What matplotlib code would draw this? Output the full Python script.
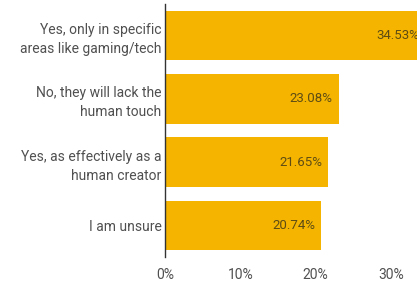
import matplotlib
matplotlib.use("Agg")
import matplotlib.pyplot as plt

plt.rcParams['font.family'] = ['Roboto', 'DejaVu Sans']

# data
categories = [
    "Yes, only in specific\nareas like gaming/tech",
    "No, they will lack the\nhuman touch",
    "Yes, as effectively as a\nhuman creator",
    "I am unsure",
]
values = [34.53, 23.08, 21.65, 20.74]
xticks = [0, 10, 20, 30]

bar_color = '#F4B400'
label_color = '#505050'
value_color = '#5e4c14'

fig = plt.figure(figsize=(4.17, 2.81), dpi=100)
ax = fig.add_axes([165 / 417, 24 / 281, 252 / 417, 253 / 281])

ypos = list(range(len(categories)))
ax.barh(ypos, values, height=0.78, color=bar_color, zorder=2)

# value labels inside bar ends (top one runs past the right edge, as in the source)
for y, v in zip(ypos, values):
    ax.annotate(f"{v:.2f}%", xy=(v, y), xytext=(-6, 0), textcoords='offset pixels',
                ha='right', va='center', fontsize=9.5, color=value_color,
                annotation_clip=False)

ax.set_ylim(len(categories) - 0.5, -0.5)
ax.set_xlim(0, 252 / 75.3 * 10)
ax.set_yticks(ypos)
ax.set_yticklabels(categories, fontsize=10, color=label_color, linespacing=1.45)
ax.set_xticks(xticks)
ax.set_xticklabels([f"{t}%" for t in xticks], fontsize=10, color=label_color)
ax.tick_params(axis='both', length=0)
ax.tick_params(axis='y', pad=2.5)
ax.tick_params(axis='x', pad=8)

for side in ['top', 'right', 'bottom']:
    ax.spines[side].set_visible(False)
ax.spines['left'].set_color('#333333')
ax.spines['left'].set_linewidth(1)
ax.spines['left'].set_zorder(3)

fig.savefig("out.png", dpi=100, facecolor='white')
